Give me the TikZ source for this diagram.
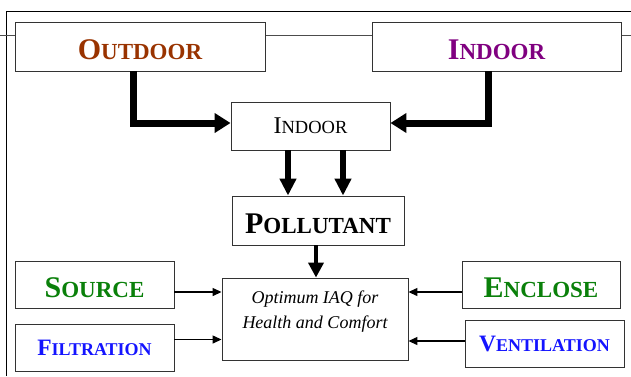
\documentclass[tikz,border=0pt]{standalone}
\usepackage{fontspec}
\setmainfont{Liberation Serif}
\usetikzlibrary{arrows.meta,positioning}

\definecolor{outdoorbrown}{RGB}{153,51,0}
\definecolor{indoorpurple}{RGB}{128,0,128}
\definecolor{sourcegreen}{RGB}{10,128,10}
\definecolor{filterblue}{RGB}{20,20,255}

% first letter big, rest as smaller capitals
\newcommand{\fakesc}[4]{{\fontsize{#1}{#1}\selectfont #3\fontsize{#2}{#2}\selectfont #4}}

\begin{document}
\begin{tikzpicture}[x=1pt,y=-1pt,
    box/.style={draw=black!80,fill=white,line width=0.9pt,inner sep=0pt},
    bigtext/.style={text height=26pt,text depth=0pt},
    bigarrow/.style={line width=7pt,line join=miter,-{Triangle[length=16pt,width=19pt]}},
    midarrow/.style={line width=5.5pt,-{Triangle[length=17pt,width=16pt]}},
    thinarrow/.style={line width=1.3pt,-{Triangle[length=9pt,width=8pt]}}]
    \useasboundingbox (0,0) rectangle (631,376);

    % --- frame
    \draw[line width=0.9pt] (6,376) -- (6,11) -- (631,11);
    \draw[black!70,line width=0.9pt] (0,35) -- (631,35);

    % --- top row
    \node[box,bigtext,minimum width=250pt,minimum height=49pt,text=outdoorbrown] (outdoor) at (140,46.5)
      {\bfseries\fakesc{30}{23}{O}{UTDOOR}};
    \node[box,bigtext,minimum width=249pt,minimum height=49pt,text=indoorpurple] (indoorR) at (496.5,46.5)
      {\bfseries\fakesc{30}{23}{I}{NDOOR}};

    % --- middle
    \node[box,minimum width=159pt,minimum height=48pt] (indoorM) at (310.5,126)
      {\fakesc{24}{18.5}{I}{NDOOR}};
    \node[box,bigtext,minimum width=172pt,minimum height=49pt] (pollut) at (318,220.5)
      {\bfseries\fakesc{30}{23}{P}{OLLUTANT}};
    \node[box,minimum width=186pt,minimum height=82pt] (optimum) at (315,319) {};
    \node[anchor=north,align=center,inner sep=0pt,font=\fontsize{18}{25}\selectfont\itshape]
      (optimumtext) at ([yshift=-13pt]optimum.north) {Optimum IAQ for\\Health and Comfort};

    % --- left / right
    \node[box,bigtext,minimum width=159pt,minimum height=47pt,text=sourcegreen] (source) at (94.5,284.5)
      {\bfseries\fakesc{30}{23}{S}{OURCE}};
    \node[box,minimum width=159pt,minimum height=47pt,text=filterblue] (filtr) at (94.5,347.5)
      {\bfseries\fakesc{23.5}{18}{F}{ILTRATION}};
    \node[box,bigtext,minimum width=158pt,minimum height=47pt,text=sourcegreen] (enclose) at (541,284.5)
      {\bfseries\fakesc{30}{23}{E}{NCLOSE}};
    \node[box,minimum width=159pt,minimum height=47pt,text=filterblue] (vent) at (544.5,343.5)
      {\bfseries\fakesc{23.5}{18}{V}{ENTILATION}};

    % Arrows
    \draw[bigarrow] ([xshift=-7pt]outdoor.south) |- ([yshift=3pt]indoorM.west);
    \draw[bigarrow] ([xshift=-8.5pt]indoorR.south) |- ([yshift=3pt]indoorM.east);
    \draw[midarrow] ([xshift=-22.5pt]indoorM.south) coordinate (d1) -- (d1 |- pollut.north);
    \draw[midarrow] ([xshift=32.5pt]indoorM.south) coordinate (d2) -- (d2 |- pollut.north);
    \draw[line width=4.5pt,-{Triangle[length=15pt,width=15pt]}]
      ([xshift=-2pt]pollut.south) coordinate (d3) -- (d3 |- optimum.north);

    \draw[thinarrow] ([yshift=-7.5pt]source.east) coordinate (s1) -- (s1 -| optimum.west);
    \draw[thinarrow] ([yshift=8pt]filtr.east) coordinate (s2) -- (s2 -| optimum.west);
    \draw[thinarrow] ([yshift=-7.5pt]enclose.west) coordinate (s3) -- (s3 -| optimum.east);
    \draw[thinarrow] ([yshift=2.5pt]vent.west) coordinate (s4) -- (s4 -| optimum.east);
\end{tikzpicture}
\end{document}
